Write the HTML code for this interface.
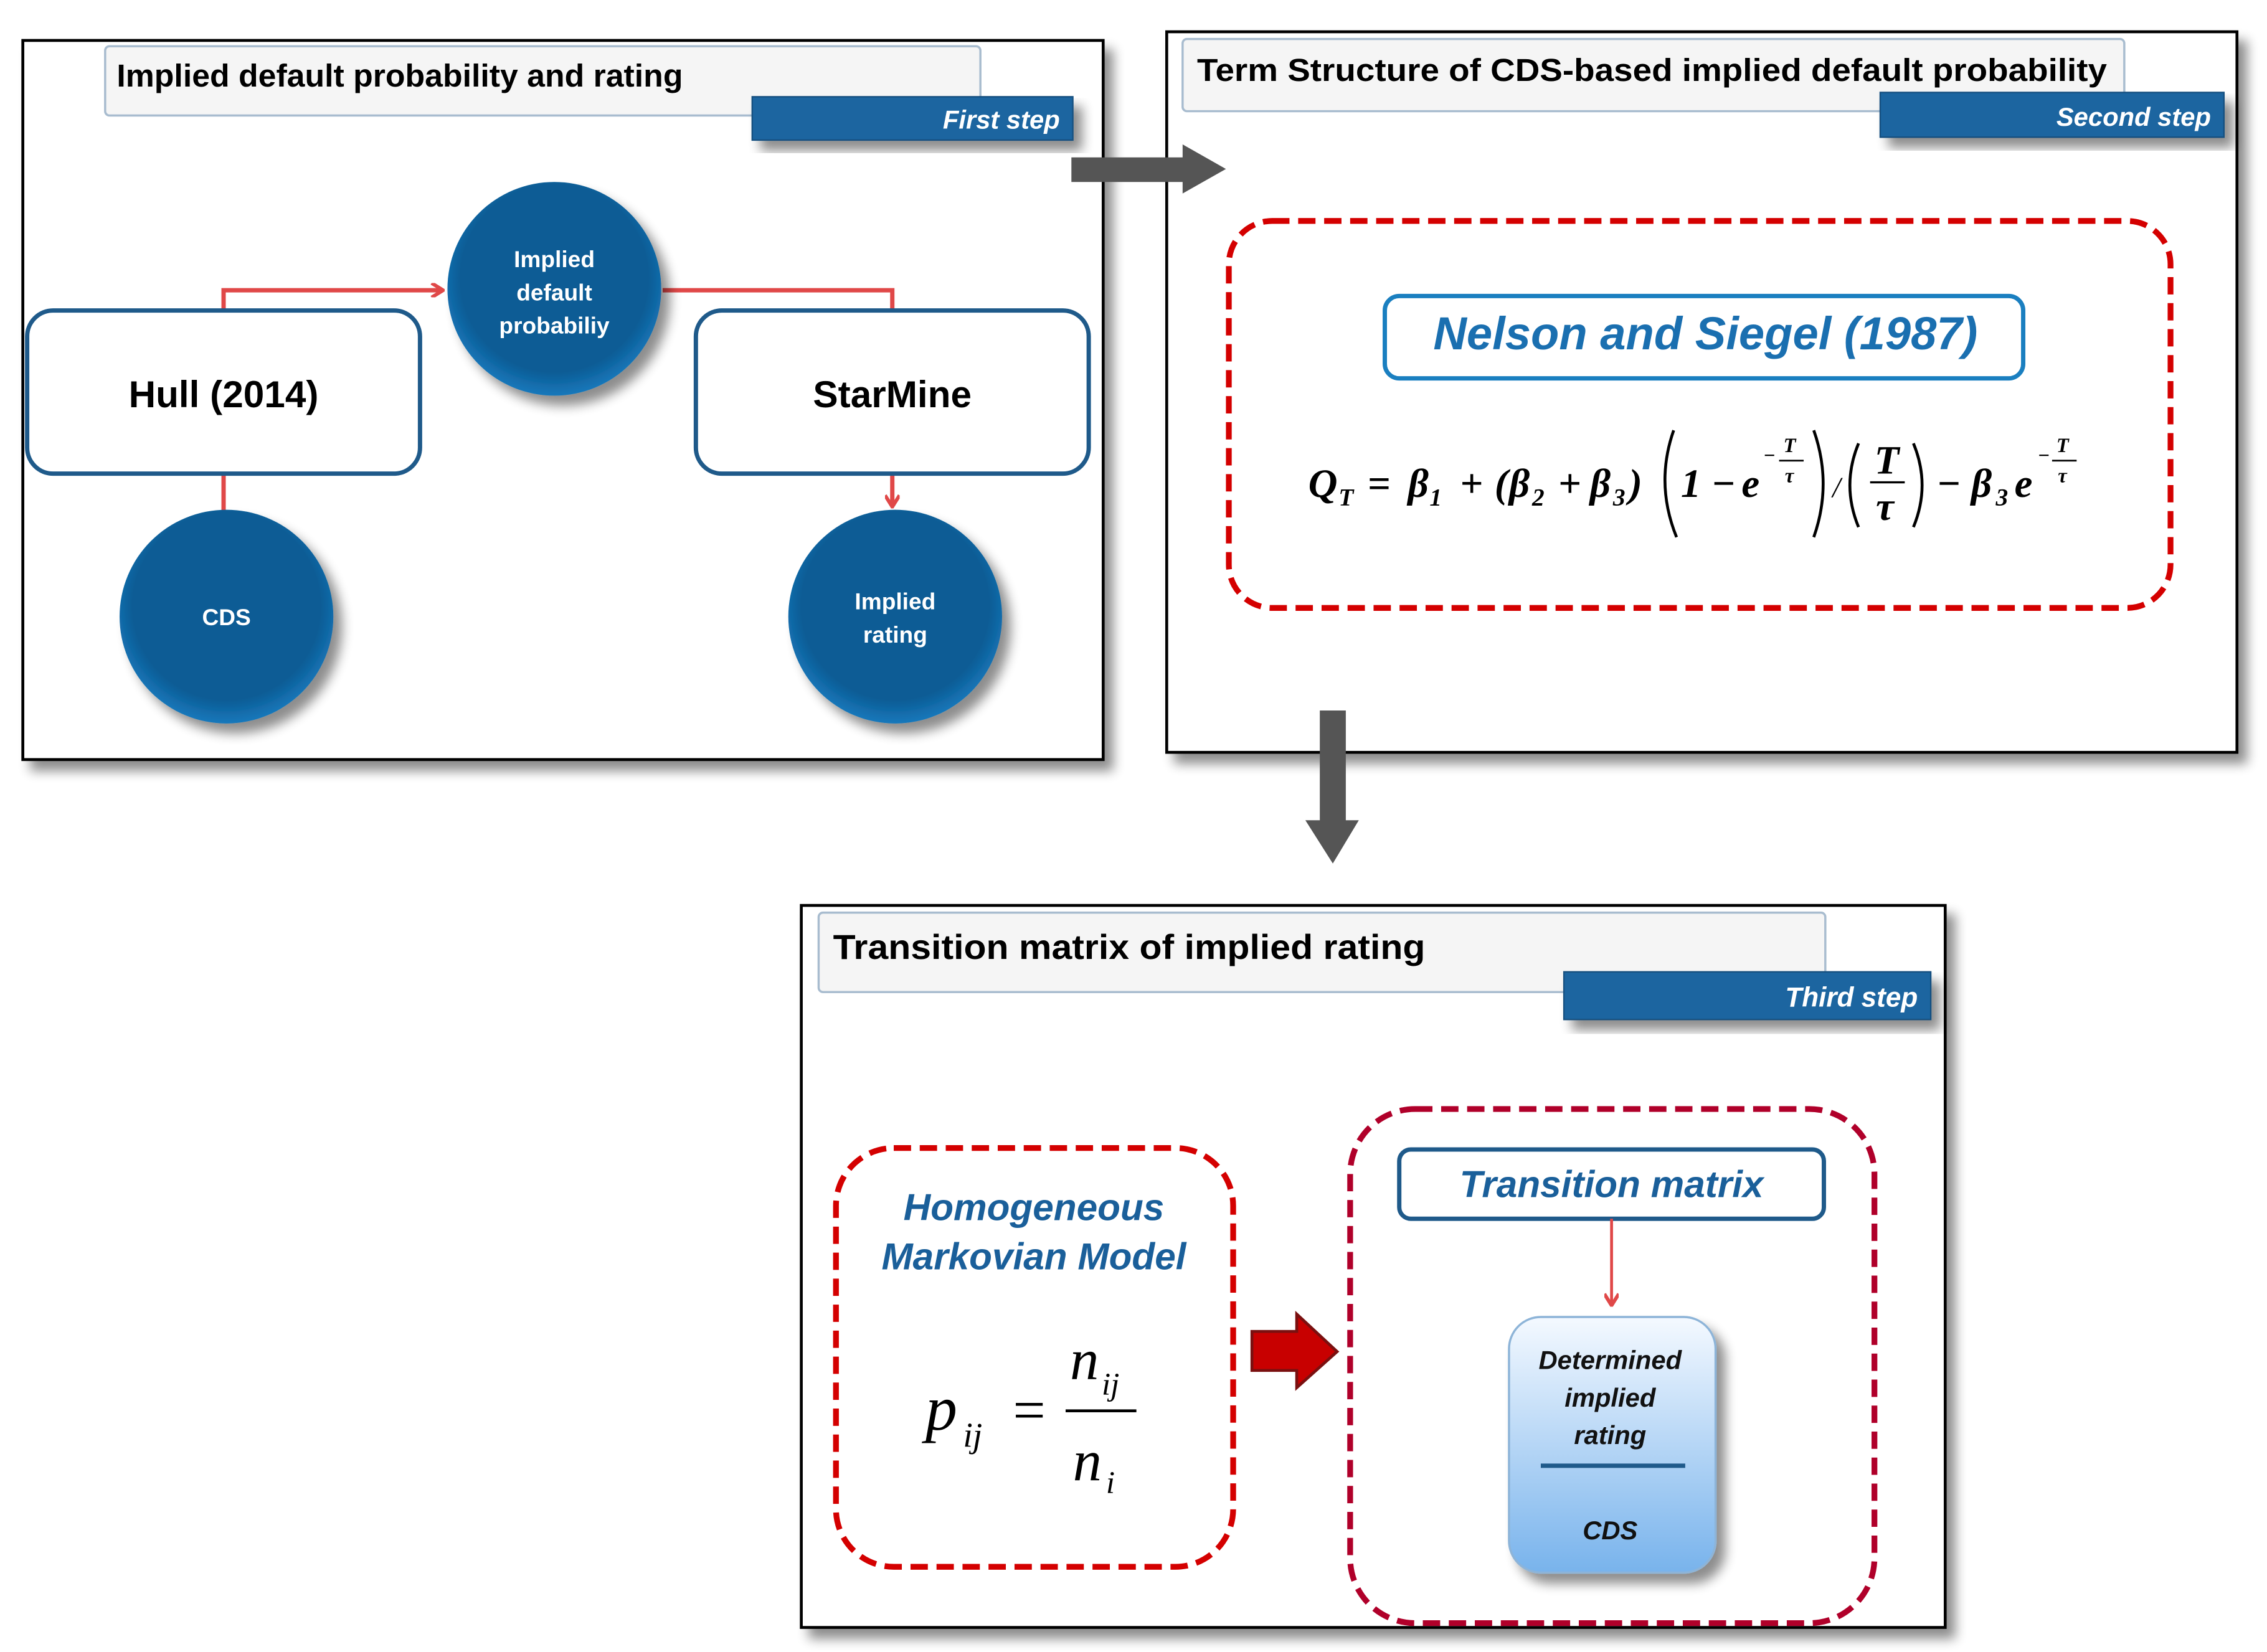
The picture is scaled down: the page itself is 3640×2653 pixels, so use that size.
<!DOCTYPE html>
<html><head><meta charset="utf-8"><style>
html,body{margin:0;padding:0;background:#fff}
svg{display:block}
text{font-family:"Liberation Sans",sans-serif}
.s{font-family:"Liberation Serif",serif;font-style:italic}
</style></head><body>
<svg width="3640" height="2653" viewBox="0 0 1568 1144" xmlns="http://www.w3.org/2000/svg">
<defs>
<radialGradient id="cg" cx="50%" cy="45%" r="55%"><stop offset="0.8" stop-color="#0b5c95"/><stop offset="1" stop-color="#1878bb"/></radialGradient>
<linearGradient id="bg" x1="0" y1="0" x2="0" y2="1"><stop offset="0" stop-color="#f4f9ff"/><stop offset="1" stop-color="#78b3ec"/></linearGradient>
<filter id="sh" x="-20%" y="-20%" width="150%" height="150%"><feGaussianBlur in="SourceAlpha" stdDeviation="4"/><feOffset dx="6" dy="7"/><feComponentTransfer><feFuncA type="linear" slope="0.45"/></feComponentTransfer><feMerge><feMergeNode/><feMergeNode in="SourceGraphic"/></feMerge></filter>
<marker id="ra" markerWidth="10" markerHeight="10" refX="8" refY="5" orient="auto" markerUnits="userSpaceOnUse"><path d="M1,0 L9,5 L1,10" fill="none" stroke="#e04848" stroke-width="2.5"/></marker>
</defs>

<!-- Panel 1 -->
<rect x="15" y="28" width="748" height="498" fill="#fff" stroke="#000" stroke-width="2" filter="url(#sh)"/>
<rect x="72" y="32" width="606" height="48" rx="3" fill="#f5f5f5" stroke="#a8bccf" stroke-width="1.5"/>
<text x="80" y="60" font-size="22" font-weight="bold" textLength="392" lengthAdjust="spacingAndGlyphs">Implied default probability and rating</text>
<rect x="520" y="67" width="222" height="30" fill="#1a65a0" stroke="#15507f" filter="url(#sh)"/>
<text x="733" y="89" font-size="18" font-weight="bold" font-style="italic" fill="#fff" text-anchor="end">First step</text>

<polyline points="154,215 154,201 305,201" fill="none" stroke="#e04848" stroke-width="3" marker-end="url(#ra)"/>
<polyline points="458,201 617,201 617,215" fill="none" stroke="#e04848" stroke-width="3"/>
<line x1="154" y1="328" x2="154" y2="354" stroke="#e04848" stroke-width="3"/>
<line x1="617" y1="328" x2="617" y2="350" stroke="#e04848" stroke-width="3" marker-end="url(#ra)"/>

<rect x="18" y="215" width="272" height="113" rx="18" fill="#fff" stroke="#1f5a8a" stroke-width="3"/>
<text x="154" y="282" font-size="26" font-weight="bold" text-anchor="middle">Hull (2014)</text>
<rect x="481" y="215" width="272" height="113" rx="18" fill="#fff" stroke="#1f5a8a" stroke-width="3"/>
<text x="617" y="282" font-size="26" font-weight="bold" text-anchor="middle">StarMine</text>

<g filter="url(#sh)">
<circle cx="383" cy="200" r="74" fill="url(#cg)"/>
<circle cx="156" cy="427" r="74" fill="url(#cg)"/>
<circle cx="619" cy="427" r="74" fill="url(#cg)"/>
</g>
<g fill="#fff" font-size="16" font-weight="bold" text-anchor="middle">
<text x="383" y="185">Implied</text><text x="383" y="208">default</text><text x="383" y="231">probabiliy</text>
<text x="156" y="433">CDS</text>
<text x="619" y="422">Implied</text><text x="619" y="445">rating</text>
</g>

<!-- Panel 2 -->
<rect x="807" y="22" width="741" height="499" fill="#fff" stroke="#000" stroke-width="2" filter="url(#sh)"/>
<rect x="818" y="27" width="652" height="50" rx="3" fill="#f5f5f5" stroke="#a8bccf" stroke-width="1.5"/>
<text x="828" y="56" font-size="22" font-weight="bold" textLength="630" lengthAdjust="spacingAndGlyphs">Term Structure of CDS-based implied default probability</text>
<rect x="1301" y="64" width="238" height="31" fill="#1a65a0" stroke="#15507f" filter="url(#sh)"/>
<text x="1530" y="87" font-size="18" font-weight="bold" font-style="italic" fill="#fff" text-anchor="end">Second step</text>

<!-- gray arrow right (on top) -->
<path d="M741,109 L818,109 L818,100 L848,117 L818,134 L818,126 L741,126 Z" fill="#555"/>

<rect x="850" y="153" width="652" height="268" rx="30" fill="none" stroke="#d40000" stroke-width="4" stroke-dasharray="12 6"/>
<rect x="958" y="205" width="442" height="57" rx="10" fill="#fff" stroke="#1a7fc0" stroke-width="3"/>
<text x="1180" y="242" font-size="32" font-weight="bold" font-style="italic" fill="#1a6fb0" text-anchor="middle">Nelson and Siegel (1987)</text>

<g font-size="28" font-weight="bold">
<text x="905" y="344" class="s">Q</text>
<text x="926" y="350" class="s" font-size="17">T</text>
<text x="946" y="344" class="s" font-style="normal">=</text>
<text x="974" y="344" class="s">β</text><text x="989" y="350" class="s" font-size="17" font-style="normal">1</text>
<text x="1010" y="344" class="s" font-style="normal">+</text>
<text x="1034" y="344" class="s" font-style="normal">(</text>
<text x="1044" y="344" class="s">β</text><text x="1060" y="350" class="s" font-size="17" font-style="normal">2</text>
<text x="1078" y="344" class="s" font-style="normal">+</text>
<text x="1100" y="344" class="s">β</text><text x="1116" y="350" class="s" font-size="17" font-style="normal">3</text>
<text x="1127" y="344" class="s" font-style="normal">)</text>
<path d="M1158,298 Q1145,335 1160,372" fill="none" stroke="#000" stroke-width="2"/>
<text x="1163" y="344" class="s" font-style="normal">1 − </text>
<text x="1205" y="344" class="s">e</text>
<text x="1220" y="320" class="s" font-size="14">−</text>
<text x="1234" y="313" class="s" font-size="14">T</text>
<line x1="1231" y1="319" x2="1248" y2="319" stroke="#000" stroke-width="1.2"/>
<text x="1235" y="334" class="s" font-size="14">τ</text>
<path d="M1255,298 Q1268,335 1255,372" fill="none" stroke="#000" stroke-width="2"/>
<text x="1268" y="344" class="s" font-size="20" font-weight="normal">/</text>
<path d="M1286,307 Q1274,336 1286,365" fill="none" stroke="#000" stroke-width="2"/>
<text x="1297" y="328" class="s">T</text>
<line x1="1294" y1="334" x2="1318" y2="334" stroke="#000" stroke-width="1.5"/>
<text x="1298" y="360" class="s">τ</text>
<path d="M1324,307 Q1336,336 1324,365" fill="none" stroke="#000" stroke-width="2"/>
<text x="1340" y="344" class="s" font-style="normal">−</text>
<text x="1364" y="344" class="s">β</text><text x="1381" y="350" class="s" font-size="17" font-style="normal">3</text>
<text x="1394" y="344" class="s">e</text>
<text x="1410" y="320" class="s" font-size="14">−</text>
<text x="1423" y="313" class="s" font-size="14">T</text>
<line x1="1420" y1="319" x2="1437" y2="319" stroke="#000" stroke-width="1.2"/>
<text x="1424" y="334" class="s" font-size="14">τ</text>
</g>

<!-- gray arrow down -->
<path d="M913,492 L931,492 L931,568 L940,568 L922,598 L903,568 L913,568 Z" fill="#555"/>

<!-- Panel 3 -->
<rect x="554" y="627" width="792" height="500" fill="#fff" stroke="#000" stroke-width="2" filter="url(#sh)"/>
<rect x="566" y="632" width="697" height="55" rx="3" fill="#f5f5f5" stroke="#a8bccf" stroke-width="1.5"/>
<text x="576" y="664" font-size="24" font-weight="bold" textLength="410" lengthAdjust="spacingAndGlyphs">Transition matrix of implied rating</text>
<rect x="1082" y="673" width="254" height="33" fill="#1a65a0" stroke="#15507f" filter="url(#sh)"/>
<text x="1327" y="697" font-size="19" font-weight="bold" font-style="italic" fill="#fff" text-anchor="end">Third step</text>

<rect x="578" y="795" width="275" height="290" rx="40" fill="none" stroke="#d40000" stroke-width="4" stroke-dasharray="12 6"/>
<text x="715" y="845" font-size="26" font-weight="bold" font-style="italic" fill="#1a5f9a" text-anchor="middle">Homogeneous</text>
<text x="715" y="879" font-size="26" font-weight="bold" font-style="italic" fill="#1a5f9a" text-anchor="middle">Markovian Model</text>
<text x="640" y="990" class="s" font-size="44">p</text>
<text x="666" y="1002" class="s" font-size="24">ij</text>
<text x="698" y="990" class="s" font-size="40">=</text>
<text x="740" y="955" class="s" font-size="40">n</text>
<text x="762" y="966" class="s" font-size="22">ij</text>
<line x1="737" y1="977" x2="786" y2="977" stroke="#000" stroke-width="2"/>
<text x="742" y="1025" class="s" font-size="40">n</text>
<text x="765" y="1034" class="s" font-size="22">i</text>

<path d="M866,922 L897,922 L897,910 L925,936 L897,961 L897,949 L866,949 Z" fill="#c80000" stroke="#7a1010" stroke-width="2"/>

<rect x="934" y="768" width="363" height="356" rx="45" fill="none" stroke="#b0002a" stroke-width="4" stroke-dasharray="12 6"/>
<rect x="968" y="796" width="294" height="48" rx="8" fill="#fff" stroke="#1f5a8a" stroke-width="3"/>
<text x="1115" y="829" font-size="26" font-weight="bold" font-style="italic" fill="#1a5f9a" text-anchor="middle">Transition matrix</text>
<line x1="1115" y1="844" x2="1115" y2="903" stroke="#e04848" stroke-width="2" marker-end="url(#ra)"/>
<rect x="1044" y="912" width="143" height="177" rx="22" fill="url(#bg)" stroke="#8db4d8" stroke-width="1.5" filter="url(#sh)"/>
<g font-size="18" font-weight="bold" font-style="italic" text-anchor="middle" fill="#111">
<text x="1114" y="948">Determined</text><text x="1114" y="974">implied</text><text x="1114" y="1000">rating</text>
<text x="1114" y="1066">CDS</text></g>
<line x1="1066" y1="1015" x2="1166" y2="1015" stroke="#1f5a8a" stroke-width="3"/>
</svg>
</body></html>
